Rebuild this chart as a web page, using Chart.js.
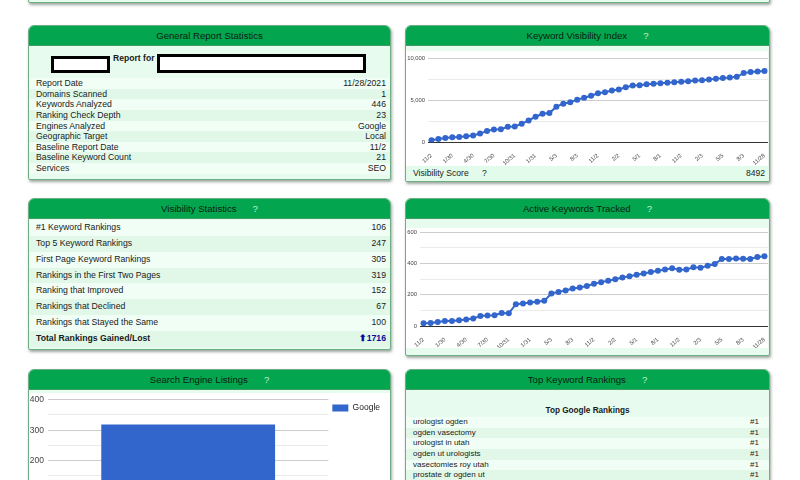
<!DOCTYPE html>
<html>
<head>
<meta charset="utf-8">
<script src="https://cdn.jsdelivr.net/npm/chart.js@4.4.0/dist/chart.umd.min.js"></script>
<style>
  html, body { margin: 0; padding: 0; background: #fff; width: 800px; height: 480px; overflow: hidden;
    font-family: Arial, "Liberation Sans", sans-serif; color: #1a1a1a; }
  .panel { position: absolute; box-sizing: border-box; background: #e8fbef; border: 1px solid #6fae84;
    border-radius: 6px 6px 2px 2px; box-shadow: 1px 2px 3px rgba(40, 60, 45, .45); overflow: hidden; }
  .hdr { height: 19px; line-height: 20px; background: #03a64f; border-bottom: 1px solid #3e9d62;
    text-align: center; font-size: 9.6px; color: #0a200f; }
  .hdr .q { color: #c8f0d2; margin-left: 16px; }
  .rows { position: absolute; left: 0; right: 0; }
  .row { display: flex; justify-content: space-between; }
  .row:nth-child(odd) { background: #f0fef5; }
  .row:nth-child(even) { background: #e1f8e9; }
  .plot { position: absolute; left: 0; background: #fff; }
  .box { position: absolute; background: #fff; border: 3px solid #000; box-sizing: border-box; }
</style>
</head>
<body>

<div class="panel" style="left:28px; top:-20px; width:742px; height:23px;"></div>

<!-- General Report Statistics -->
<div class="panel" style="left:28px; top:25px; width:363px; height:155px;">
  <div class="hdr">General Report Statistics</div>
  <div class="box" style="left:22px; top:30px; width:59px; height:17px;"></div>
  <div style="position:absolute; left:84px; top:27px; font-size:8.6px; font-weight:bold;">Report for</div>
  <div class="box" style="left:128px; top:28px; width:209px; height:19px;"></div>
  <div class="rows" id="generalRows" style="top:52px;"></div>
</div>

<!-- Keyword Visibility Index -->
<div class="panel" style="left:405px; top:25px; width:365px; height:157px;">
  <div class="hdr">Keyword Visibility Index<span class="q">?</span></div>
  <div class="plot" style="top:25px; width:362px; height:115px;">
    <canvas id="visibilityChart" width="362" height="115"></canvas>
  </div>
  <div style="position:absolute; left:0; right:0; top:140px; height:15px; line-height:15px; background:#e2fbea; font-size:8.6px;">
    <span style="position:absolute; left:7px;">Visibility Score</span>
    <span style="position:absolute; left:76px;">?</span>
    <span style="position:absolute; right:4px;" id="scoreText"></span>
  </div>
</div>

<!-- Visibility Statistics -->
<div class="panel" style="left:28px; top:198px; width:363px; height:152px;">
  <div class="hdr">Visibility Statistics<span class="q">?</span></div>
  <div class="rows" id="visRows" style="top:21px;"></div>
</div>

<!-- Active Keywords Tracked -->
<div class="panel" style="left:405px; top:198px; width:365px; height:158px;">
  <div class="hdr">Active Keywords Tracked<span class="q">?</span></div>
  <div class="plot" style="top:29px; width:362px; height:120px;">
    <canvas id="activeChart" width="362" height="120"></canvas>
  </div>
</div>

<!-- Search Engine Listings -->
<div class="panel" style="left:28px; top:369px; width:363px; height:150px;">
  <div class="hdr">Search Engine Listings<span class="q">?</span></div>
  <div class="plot" style="top:23px; width:361px; height:140px;">
    <canvas id="listingChart" width="361" height="140"></canvas>
  </div>
</div>

<!-- Top Keyword Rankings -->
<div class="panel" style="left:405px; top:369px; width:365px; height:150px;">
  <div class="hdr">Top Keyword Rankings<span class="q">?</span></div>
  <div style="position:absolute; left:0; right:0; top:36px; text-align:center; font-size:8.2px; font-weight:bold;">Top Google Rankings</div>
  <div class="rows" id="topRows" style="top:47px;"></div>
</div>

<script>
// report tables
const generalLabels = ['Report Date', 'Domains Scanned', 'Keywords Analyzed', 'Ranking Check Depth',
  'Engines Analyzed', 'Geographic Target', 'Baseline Report Date', 'Baseline Keyword Count', 'Services'];
const generalValues = ['11/28/2021', '1', '446', '23', 'Google', 'Local', '11/2', '21', 'SEO'];

const visLabels = ['#1 Keyword Rankings', 'Top 5 Keyword Rankings', 'First Page Keyword Rankings',
  'Rankings in the First Two Pages', 'Ranking that Improved', 'Rankings that Declined',
  'Rankings that Stayed the Same'];
const visValues = [106, 247, 305, 319, 152, 67, 100];
const totalGained = 1716;

const topKeywords = ['urologist ogden', 'ogden vasectomy', 'urologist in utah', 'ogden ut urologists',
  'vasectomies roy utah', 'prostate dr ogden ut'];
const topRanks = ['#1', '#1', '#1', '#1', '#1', '#1'];

// monthly snapshots, every 3rd one labelled
const dateLabels = ['11/2', '12/1', '1/2', '1/30', '3/1', '4/2', '4/30', '6/1', '7/2', '7/30', '8/31', '10/1',
  '10/31', '12/1', '1/2', '1/31', '3/4', '4/2', '5/3', '6/3', '7/2', '8/3', '9/3', '10/2',
  '11/2', '12/2', '1/3', '2/2', '3/3', '4/2', '5/1', '6/1', '7/2', '8/1', '9/1', '10/2',
  '11/2', '12/2', '1/4', '2/3', '3/3', '4/5', '5/5', '6/4', '7/2', '8/3', '9/3', '10/4', '11/28'];
const visibilityIndex = [250, 400, 520, 600, 620, 720, 800, 1040, 1360, 1520, 1560, 1840,
  1880, 2200, 2600, 3040, 3400, 3480, 4240, 4600, 4760, 5080, 5300, 5540,
  5840, 5960, 6160, 6280, 6560, 6760, 6800, 6920, 6960, 7040, 7080, 7160,
  7200, 7280, 7360, 7400, 7480, 7560, 7640, 7720, 7800, 8240, 8380, 8440, 8492];
const activeKeywords = [20, 21, 28, 34, 34, 38, 43, 49, 66, 69, 70, 85,
  83, 141, 145, 151, 156, 162, 209, 219, 228, 241, 247, 257,
  271, 281, 290, 300, 311, 319, 328, 336, 345, 354, 362, 370,
  360, 362, 375, 373, 385, 396, 428, 428, 432, 430, 428, 441, 446];

const engineNames = ['Google'];
const engineListings = [319];

function fillRows(id, labels, values, rowH, padL, padR, size) {
  const el = document.getElementById(id);
  labels.forEach((lab, i) => {
    const r = document.createElement('div');
    r.className = 'row';
    r.style.cssText = `height:${rowH}px;line-height:${rowH}px;padding:0 ${padR}px 0 ${padL}px;font-size:${size}px`;
    r.innerHTML = `<span>${lab}</span><span>${values[i]}</span>`;
    el.appendChild(r);
  });
  return el;
}

fillRows('generalRows', generalLabels, generalValues, 10.65, 7, 4, 8.7);
const vr = fillRows('visRows', visLabels, visValues, 15.85, 7, 4, 8.7);
const tot = document.createElement('div');
tot.className = 'row';
tot.style.cssText = 'height:15.85px;line-height:15.85px;padding:0 4px 0 7px;font-size:8.7px;font-weight:bold';
tot.innerHTML = `<span>Total Rankings Gained/Lost</span><span style="color:#0a0a9a">&#x2B06;${totalGained}</span>`;
vr.appendChild(tot);
fillRows('topRows', topKeywords, topRanks, 10.65, 7, 10, 8);
document.getElementById('scoreText').textContent = visibilityIndex[visibilityIndex.length - 1];

const FONT = 'Arial, "Liberation Sans", sans-serif';

function lineChart(id, values, max, step, major, yWidth, padTop, xHeight) {
  return new Chart(document.getElementById(id), {
    type: 'line',
    data: {
      labels: dateLabels,
      datasets: [{
        data: values,
        borderColor: '#3366cc',
        backgroundColor: '#3366cc',
        borderWidth: 2,
        pointRadius: 3,
        pointBorderWidth: 0,
        pointHoverRadius: 3,
        tension: 0
      }]
    },
    options: {
      responsive: false,
      animation: false,
      layout: { autoPadding: false, padding: { top: padTop, left: 0, right: 0, bottom: 0 } },
      plugins: { legend: { display: false }, tooltip: { enabled: false } },
      scales: {
        x: {
          offset: true,
          grid: { display: false },
          border: { display: true, color: '#333', width: 1 },
          ticks: {
            autoSkip: false, minRotation: 40, maxRotation: 40, padding: 2, color: '#444',
            font: { size: 5.8, family: FONT },
            callback: function (v, i) { return i % 3 === 0 ? this.getLabelForValue(v) : ''; }
          },
          afterFit: s => { s.height = xHeight; s.paddingLeft = 0; s.paddingRight = 0; }
        },
        y: {
          min: 0, max: max,
          grid: {
            drawTicks: false,
            color: c => c.tick.value === 0 ? '#333' : (c.tick.value % major === 0 ? '#cccccc' : '#ebebeb')
          },
          border: { display: false },
          ticks: {
            stepSize: step, padding: 3, color: '#444',
            font: { size: 5.8, family: FONT },
            callback: v => v % major === 0 ? v.toLocaleString('en-US') : ''
          },
          afterFit: s => { s.width = yWidth; s.paddingTop = 0; s.paddingBottom = 0; }
        }
      }
    }
  });
}

lineChart('visibilityChart', visibilityIndex, 10000, 2500, 5000, 22, 7.3, 23.7);
lineChart('activeChart', activeKeywords, 600, 100, 200, 14, 4, 21.7);

new Chart(document.getElementById('listingChart'), {
  type: 'bar',
  data: {
    labels: engineNames,
    datasets: [{
      label: 'Google',
      data: engineListings,
      backgroundColor: '#3366cc',
      borderWidth: 0,
      barPercentage: 0.62,
      categoryPercentage: 1
    }]
  },
  options: {
    responsive: false,
    animation: false,
    layout: { autoPadding: false, padding: { top: 6.7, left: 0, right: 0, bottom: 11.3 } },
    plugins: {
      tooltip: { enabled: false },
      legend: {
        position: 'right', align: 'start',
        labels: { boxWidth: 16, boxHeight: 7, padding: 4, color: '#222', font: { size: 8.5, family: FONT } }
      }
    },
    scales: {
      x: { display: false },
      y: {
        min: 0, max: 400,
        grid: {
          drawTicks: false,
          color: c => c.tick.value % 100 === 0 ? '#cccccc' : '#ebebeb'
        },
        border: { display: false },
        ticks: {
          stepSize: 50, padding: 4, color: '#444',
          font: { size: 8.5, family: FONT },
          callback: v => v % 100 === 0 ? v : ''
        },
        afterFit: s => { s.width = 19; s.paddingTop = 0; s.paddingBottom = 0; }
      }
    }
  }
});
</script>
</body>
</html>
